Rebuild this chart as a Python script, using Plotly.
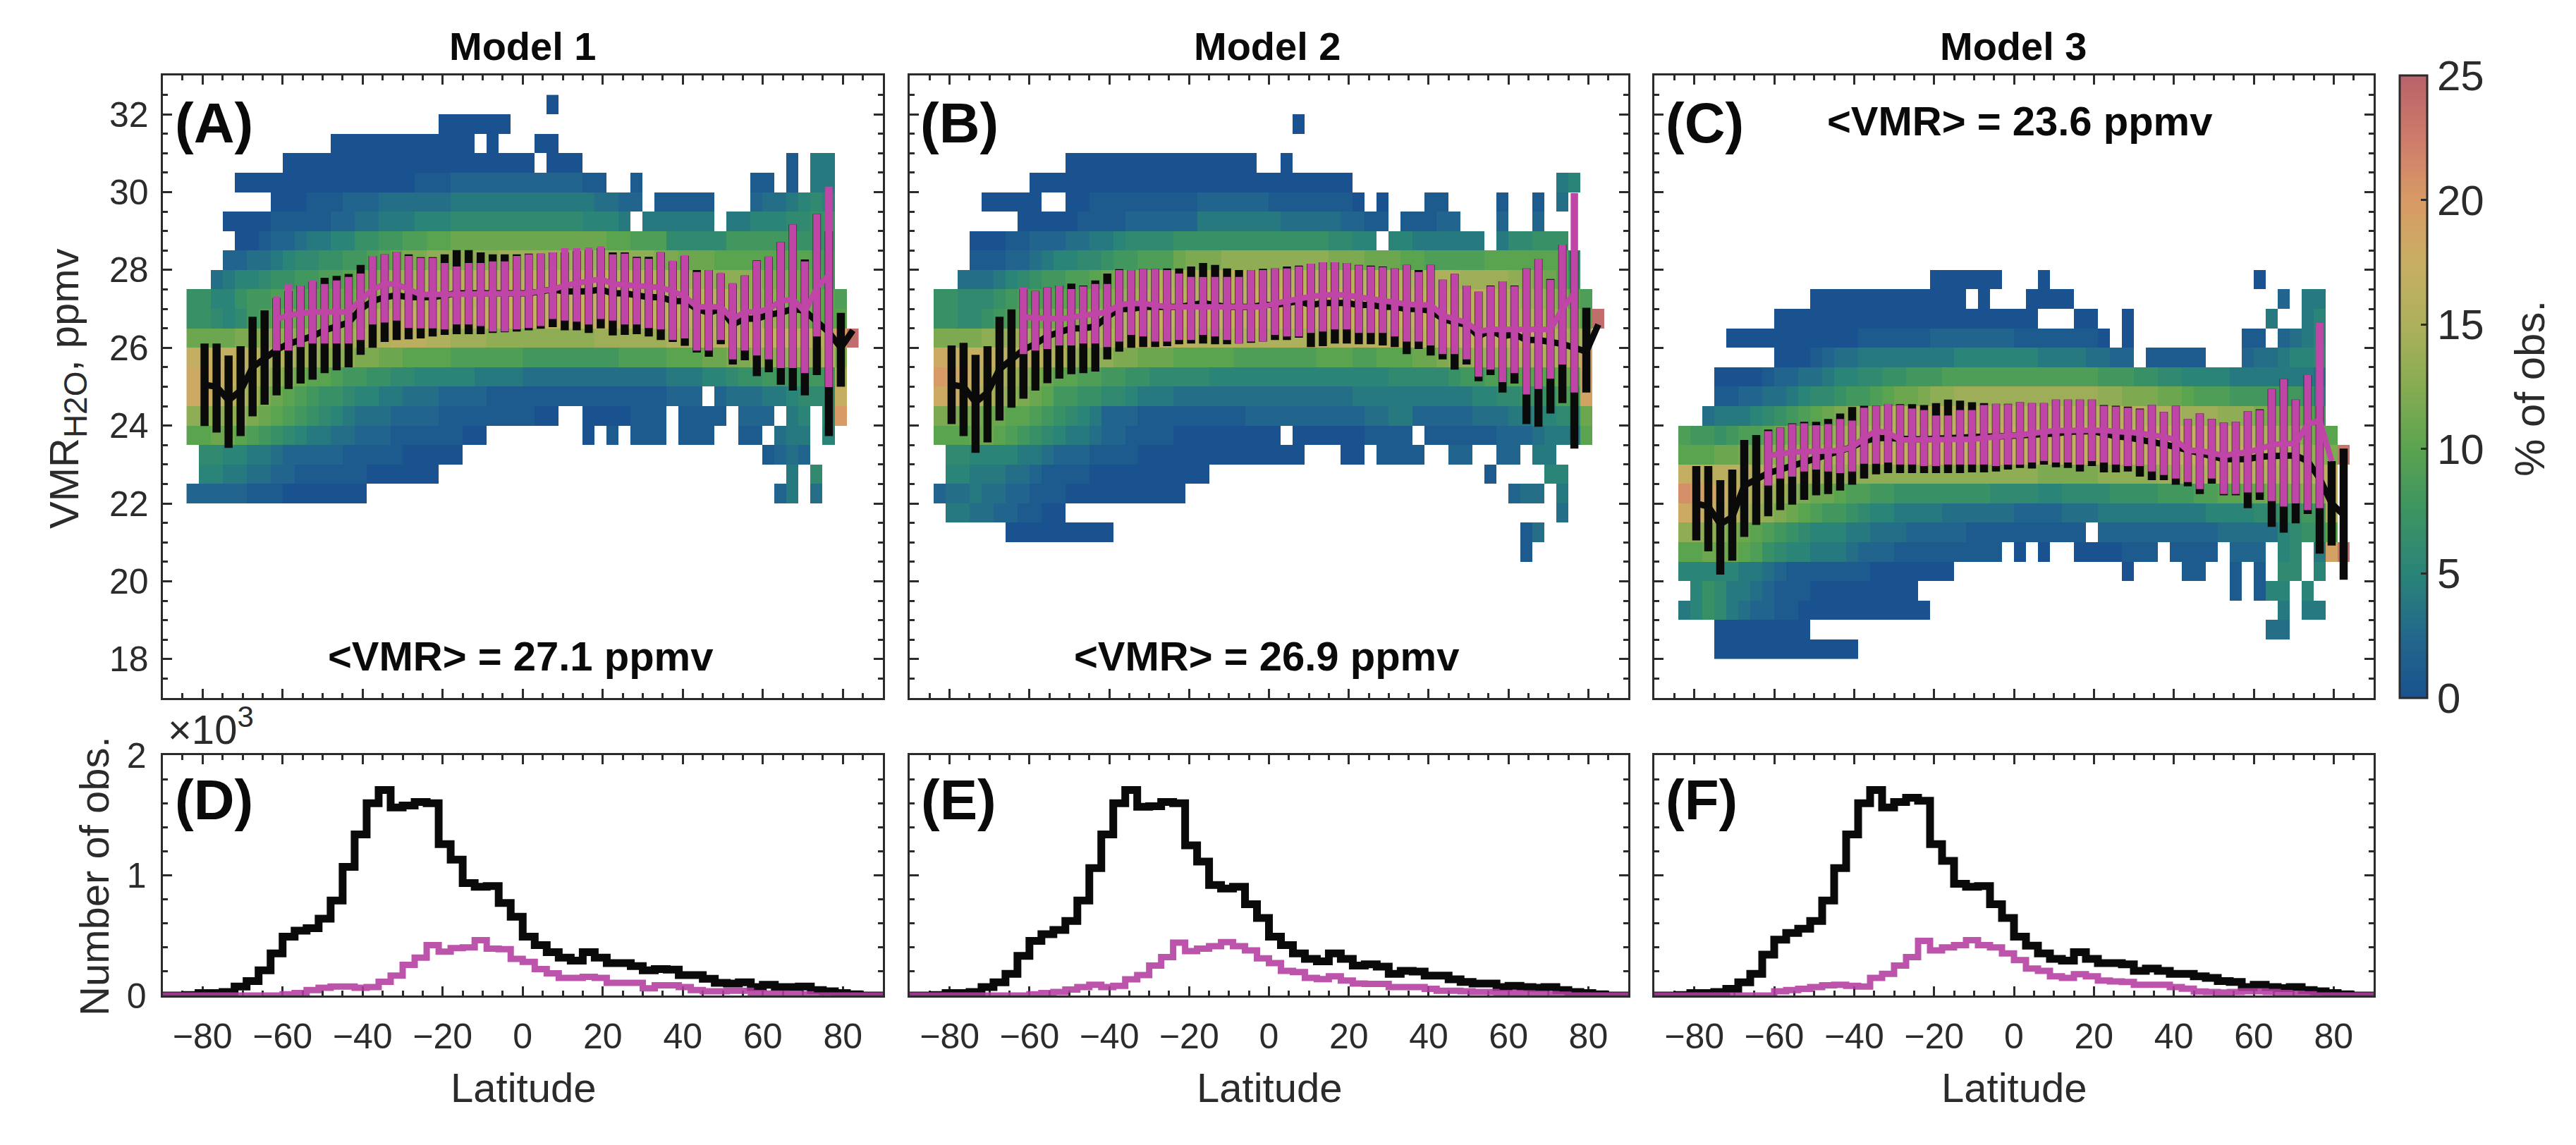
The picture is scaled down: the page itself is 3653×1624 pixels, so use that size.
import numpy as np
import plotly.graph_objects as go

W, H = 3653, 1624
LAT_CELLS = [-82.5 + 3 * i for i in range(56)]
VMR_ROWS = [18.25 + 0.5 * i for i in range(29)]
LAT_TICKS = [-80, -60, -40, -20, 0, 20, 40, 60, 80]
VMR_TICKS = [18, 20, 22, 24, 26, 28, 30, 32]
NOBS_TICKS = [0, 1, 2]
CBAR_TICKS = [0, 5, 10, 15, 20, 25]
HIST_EDGES = [-90 + 3 * i for i in range(61)]

# cell values: % of obs., one base-36 digit per cell, "." = empty; high rows first
CELLS_A = {
32.25: ".......... .......... .......... 0......... .......... ......",
31.75: ".......... .......... .000000... .......... .......... ......",
31.25: ".......... ..00000000 0000.0...0 0......... .......... ......",
30.75: "........00 0000000000 000000000. 000....... .......... 1.44..",
30.25: "....000000 0000000001 1122222222 22211..1.. .......11. 1.44..",
29.75: ".......000 1112223333 3344444444 44443322.1 1111...233 4565..",
29.25: "...0000111 1122334445 5566666666 6665554.44 4444.44555 6677..",
28.75: "....001223 4455778899 aabbbbbbbb bbbbbaa999 6666688888 8777..",
28.25: "...2233456 677889abcc ddddddeeee eeeeeedddc cbbbaaaaaa aa98..",
27.75: "..34556778 899abcdeef ffgggggggg gggggggggf feeeddddcc cba8..",
27.25: "7755788999 aabbcdefgg gggggghhhh hhhhhhhhgg gggggfeddd cbba9.",
26.75: "7765689abb ccddefgghh hhhhhhhhhh hhhhhhhhhh hhggffffee dcbaa.",
26.25: "bbbbccdddd eeeefffggg ffeeeddddd ddddeeeeee fffggggghh hggfko",
25.75: "hhhhggfffe edddccbbaa aa99999988 8888889999 aaabbccddd eeefc.",
25.25: "iiihgfedcb aa98877665 5555444433 3333333333 4445567788 8888e.",
24.75: "iihgfecba9 8776554433 3222211111 1111111111 222.233344 5666h.",
24.25: "dddddcba98 7654333222 2111111110 0..0000111 .1111.222. 45.6k.",
23.75: "aabba98765 4433222111 11100..... ...0.1.111 .111..11.3 44.5..",
23.25: ".665544322 2221111100 000....... .......... ........12 32....",
22.75: ".554433221 1111100000 0......... .......... .......... 4.6...",
22.25: "2222211100 00000..... .......... .......... .........2 4.3...",
}
CELLS_B = {
31.75: ".......... .......... .......... 0......... .......... ......",
30.75: ".......... .000000000 0000000..0 .......... .......... ......",
30.25: "........00 0000000000 0000000000 00000..... .......... ..45..",
29.75: "....00000. .001111111 1122222211 111110.0.. .11....1.. 1.3...",
29.25: ".......000 0011112222 2244444443 33332211.1 1122...2.. 2.....",
28.75: "...0001122 2334456666 7777777777 7776655.55 444444.466 777...",
28.25: "...1112234 5566788999 bcccdddddd dddcccbbba a99999aaaa aaa6..",
27.75: "..33345678 899abcdeff ffffgggggg gggggggggf ffffeeeedd cba7..",
27.25: "7766678999 aabccdefgg gggggghhhh hhhhhhhhgg gggggggffe edca9.",
26.75: "7766789abb ccdeefgghh hhhhhhhhhh hhhhhhhhhh hhhhggggff fedcao",
26.25: "ccccddeeee efffffgggg ggffffffff ffffgggggg gghhhhhhhh hgfeg.",
25.75: "iihhhhgggf fedddccbbb aaaaa99999 99aaa99aaa bbcddeeeff fffgj.",
25.25: "kjihgfedcb aa99887766 6665555555 5555555566 66678899aa aabbk.",
24.75: "iihgfedcba 8877665444 3333333333 3333344444 4444455667 7799j.",
24.25: "ccccbbaa98 7654222111 1111112222 2222223344 2222233344 5566b.",
23.75: "aaabba9876 5443221111 000000000. 0000001111 .111111222 3444a.",
23.25: ".665555443 2221111000 0000000000 0...00.111 1..22..22. 44....",
22.75: ".554443321 1110000000 000....... .......... ......1... .55...",
22.25: "2334332211 1000000000 0......... .......... ........23 3.4...",
21.75: ".443322110 0......... .......... .......... .......... ..3...",
21.25: "......0000 00000..... .......... .......... .........1 3.....",
20.75: ".......... .......... .......... .......... .........1 ......",
}
CELLS_C = {
27.75: ".......... .......... .000000... 0......... ........0. ......",
27.25: ".......... .000000000 0000.0...0 000....... .......... 2.44..",
26.75: "........00 0000000000 0000000000 ...00..0.. .........4 ..45..",
26.25: "....000000 0000011111 1222222211 111110.0.. .......11. 2345..",
25.75: "........00 0123344444 4445555555 44443322.1 1111...233 4556..",
25.25: "...0000122 3345566778 8899999999 9999988877 6655554444 4443..",
24.75: "...1122334 5667889abb cddeeeeeee eeeeeddccc bba9998888 8874..",
24.25: "..34445678 9abcdeefgg gggggggggg gggggggggf ffeeedddcc cba8..",
23.75: "9887899abc cddefffggg hhhhhhhhhh hhhhhhhhhh hhhhhhggff edcba.",
23.25: "aaabbccdde eeffgghhhh hhhhhhhhhh hhhhhhhhhh hhhhhhhhhg gfedcn",
22.75: "hhggggggff ffeeeddddd dddddddddd cccccddddd eeffgggggf fffgh.",
22.25: "lkjihgfeed cbba998877 7777776666 5566667777 88899aabbc ccddh.",
21.75: "iihhgfedcb a988765544 4433333322 2233344444 4444555566 7788f.",
21.25: "ddddcba987 6555443332 2222111111 1111.22222 2222233333 5677a.",
20.75: "aabbba9765 5444322211 1111111.0. 0..0000111 .1111.222. 56.4jn",
20.25: "5555544321 1111110000 000....... .......0.. ..11..1.1. 66.5..",
19.75: ".576443211 1000000000 .......... .......... ......1.15 5.5...",
19.25: "4576432211 0000000000 0......... .......... .......... 4.44..",
18.75: "...0000000 0......... .......... .......... .........3 3.....",
18.25: "...0000000 00000..... .......... .......... .......... ......",
}

BLACK_LAT = [-79.5 + 3 * i for i in range(55)]
PINK_LAT = [-61.5 + 3 * i for i in range(48)]

A_BLACK_MEAN = [25.05,25.0,24.65,24.9,25.5,25.75,25.95,26.1,26.2,26.3,
 26.45,26.55,26.65,27.0,27.2,27.3,27.35,27.3,27.3,27.3,
 27.35,27.4,27.4,27.4,27.4,27.4,27.4,27.4,27.45,27.5,
 27.45,27.45,27.45,27.5,27.4,27.4,27.35,27.3,27.3,27.2,
 27.2,27.0,26.9,27.0,26.6,26.75,26.75,26.85,26.9,27.0,
 26.95,26.7,26.4,26.0,26.45]
A_BLACK_HI = [26.11,26.11,25.8,26.04,26.8,26.96,27.28,27.46,27.6,27.7,
 27.8,27.85,27.9,28.13,28.36,28.4,28.47,28.4,28.33,28.33,
 28.4,28.51,28.51,28.45,28.4,28.4,28.4,28.42,28.42,28.45,
 28.45,28.49,28.51,28.56,28.45,28.45,28.34,28.34,28.45,28.22,
 28.36,28.0,28.0,27.91,27.64,27.86,28.25,28.34,28.72,29.17,
 28.27,29.44,28.99,26.9,26.45]
A_BLACK_LO = [23.99,23.82,23.43,23.73,24.24,24.54,24.78,24.94,25.08,25.18,
 25.35,25.42,25.5,25.82,26.0,26.15,26.2,26.22,26.24,26.29,
 26.33,26.35,26.35,26.35,26.38,26.4,26.42,26.45,26.49,26.53,
 26.45,26.45,26.38,26.5,26.32,26.33,26.35,26.29,26.2,26.15,
 26.05,25.88,25.77,26.09,25.57,25.68,25.27,25.37,25.05,24.9,
 24.78,25.3,23.73,25.0,26.45]
A_PINK_MEAN = [26.74,26.83,26.88,26.92,26.92,26.92,26.92,27.23,27.5,27.64,
 27.64,27.5,27.37,27.37,27.37,27.37,27.37,27.37,27.37,27.37,
 27.37,27.4,27.46,27.5,27.6,27.65,27.7,27.77,27.64,27.62,
 27.6,27.55,27.55,27.45,27.32,27.05,27.05,27.05,26.74,26.92,
 26.92,27.0,27.2,27.25,26.92,27.55,27.87]
A_PINK_HI = [27.32,27.64,27.6,27.73,27.64,27.73,27.82,27.91,28.36,28.4,
 28.47,28.36,28.31,28.31,28.18,28.09,28.18,28.18,28.22,28.22,
 28.36,28.4,28.42,28.45,28.56,28.56,28.58,28.61,28.4,28.42,
 28.31,28.29,28.47,28.24,28.38,27.95,28.0,27.93,27.67,27.86,
 28.24,28.36,28.72,29.17,28.22,29.44,30.14]
A_PINK_LO = [25.93,25.93,26.02,26.11,26.11,26.11,26.11,26.2,26.6,26.65,
 26.7,26.51,26.5,26.5,26.47,26.6,26.6,26.56,26.42,26.42,
 26.47,26.51,26.56,26.74,26.7,26.67,26.6,26.74,26.7,26.6,
 26.6,26.51,26.47,26.2,26.24,25.93,25.93,26.2,25.7,25.93,
 25.8,25.7,25.48,25.48,25.35,26.29,24.99]

B_BLACK_MEAN = [25.05,25.0,24.6,24.85,25.45,25.7,25.95,26.1,26.3,26.4,
 26.5,26.5,26.55,26.8,27.0,27.0,27.05,27.05,27.05,27.05,
 27.1,27.15,27.1,27.05,27.05,27.05,27.1,27.1,27.15,27.2,
 27.1,27.15,27.15,27.15,27.1,27.1,27.05,27.05,27.0,27.0,
 26.95,26.75,26.65,26.6,26.3,26.45,26.3,26.35,26.2,26.2,
 26.15,26.1,26.0,25.9,26.6]
B_BLACK_HI = [26.06,26.13,25.82,26.04,26.8,26.99,27.5,27.46,27.55,27.6,
 27.65,27.6,27.73,27.91,28.02,28.0,28.03,28.03,28.04,28.04,
 28.09,28.18,28.13,28.04,28.0,28.0,28.03,28.04,28.09,28.11,
 28.16,28.2,28.2,28.18,28.13,28.11,28.09,28.04,28.13,28.0,
 28.13,27.75,27.9,27.6,27.44,27.6,27.71,27.6,28.04,28.29,
 27.77,28.65,28.49,27.03,26.6]
B_BLACK_LO = [24.04,23.73,23.3,23.57,24.13,24.46,24.69,24.9,25.09,25.21,
 25.32,25.35,25.39,25.7,25.9,26.0,26.02,26.02,26.04,26.09,
 26.11,26.11,26.09,26.09,26.11,26.13,26.16,26.2,26.2,26.26,
 26.02,26.04,26.11,26.11,26.09,26.09,26.06,26.02,25.84,25.97,
 25.8,25.7,25.44,25.57,25.14,25.3,24.85,25.08,24.04,23.97,
 24.31,24.58,23.41,24.85,26.6]
B_PINK_MEAN = [26.79,26.77,26.75,26.74,26.78,26.83,26.87,26.92,27.1,27.14,
 27.14,27.1,27.05,27.05,27.05,27.05,27.05,27.05,27.05,27.05,
 27.05,27.14,27.2,27.28,27.32,27.35,27.37,27.35,27.3,27.25,
 27.23,27.18,27.12,27.1,27.1,26.83,26.74,26.65,26.42,26.47,
 26.47,26.47,26.47,26.47,26.47,27.0,27.4]
B_PINK_HI = [27.55,27.46,27.55,27.6,27.51,27.58,27.64,27.64,28.0,28.0,
 28.03,28.03,28.0,27.91,27.82,27.82,27.82,27.82,27.82,28.0,
 28.0,28.04,28.04,28.09,28.16,28.2,28.2,28.18,28.12,28.09,
 28.07,28.04,28.13,27.95,28.13,27.75,27.9,27.6,27.44,27.58,
 27.71,27.58,28.04,28.29,27.75,28.65,29.98]
B_PINK_LO = [25.84,25.93,25.97,26.06,26.06,26.11,26.11,26.02,26.16,26.33,
 26.29,26.16,26.16,26.2,26.2,26.33,26.29,26.2,26.11,26.16,
 26.16,26.33,26.29,26.29,26.38,26.42,26.47,26.47,26.38,26.38,
 26.38,26.29,26.16,26.16,26.06,25.84,25.84,25.7,25.26,25.44,
 25.12,25.35,24.8,24.94,25.21,25.57,24.85]

C_BLACK_MEAN = [22.0,21.92,21.47,21.65,22.46,22.6,22.78,22.87,22.96,23.05,
 23.14,23.23,23.32,23.45,23.6,23.68,23.68,23.65,23.65,23.65,
 23.67,23.7,23.72,23.72,23.72,23.72,23.73,23.74,23.75,23.77,
 23.8,23.84,23.85,23.86,23.8,23.72,23.7,23.65,23.6,23.52,
 23.45,23.38,23.32,23.25,23.14,23.14,23.14,23.2,23.23,23.23,
 23.23,23.09,22.64,22.0,21.7]
C_BLACK_HI = [22.96,22.96,22.6,22.87,23.63,23.76,23.9,23.95,24.06,24.1,
 24.1,24.17,24.31,24.48,24.51,24.51,24.55,24.55,24.55,24.53,
 24.58,24.67,24.64,24.6,24.58,24.56,24.56,24.6,24.58,24.58,
 24.67,24.67,24.67,24.67,24.53,24.51,24.49,24.44,24.53,24.35,
 24.51,24.17,24.31,24.17,24.08,24.1,24.37,24.42,24.94,25.2,
 24.67,25.3,24.5,23.09,23.41]
C_BLACK_LO = [21.05,20.77,20.17,20.53,21.14,21.45,21.67,21.83,21.97,22.09,
 22.21,22.24,22.33,22.48,22.64,22.75,22.78,22.78,22.78,22.78,
 22.78,22.78,22.78,22.8,22.8,22.82,22.87,22.91,22.9,23.0,
 22.93,22.91,22.82,22.96,22.8,22.8,22.82,22.69,22.6,22.6,
 22.48,22.44,22.24,22.51,22.21,22.21,21.88,22.09,21.4,21.25,
 21.49,21.73,20.71,20.92,20.04]
C_PINK_MEAN = [23.23,23.28,23.32,23.33,23.34,23.35,23.36,23.45,23.68,23.86,
 23.82,23.63,23.63,23.63,23.63,23.63,23.63,23.65,23.68,23.72,
 23.74,23.76,23.81,23.84,23.87,23.88,23.89,23.9,23.88,23.85,
 23.83,23.81,23.75,23.72,23.63,23.36,23.36,23.3,23.23,23.28,
 23.32,23.4,23.5,23.54,23.54,24.04,24.13,23.09]
C_PINK_HI = [23.86,23.95,24.04,24.06,24.01,24.04,24.17,24.13,24.46,24.51,
 24.56,24.53,24.44,24.4,24.26,24.26,24.4,24.4,24.53,24.56,
 24.55,24.6,24.58,24.58,24.67,24.67,24.67,24.67,24.51,24.49,
 24.46,24.42,24.53,24.35,24.51,24.17,24.31,24.17,24.08,24.1,
 24.37,24.4,24.94,25.2,24.67,25.3,26.64,23.09]
C_PINK_LO = [22.46,22.64,22.69,22.82,22.87,22.82,22.78,22.82,23.02,23.02,
 23.05,23.0,23.0,22.96,22.96,23.0,23.0,23.0,23.0,22.96,
 23.0,23.0,23.05,23.09,23.05,23.05,23.0,23.09,23.05,23.0,
 22.96,22.96,22.82,22.73,22.64,22.55,22.37,22.64,22.24,22.24,
 22.28,22.28,22.06,21.92,22.0,21.83,21.88,23.09]

D_BLACK = [0,0,.005,.02,.02,.03,.075,.12,.21,.35,.49,.54,.56,.64,.79,1.07,1.34,1.60,1.71,1.565,
 1.58,1.61,1.60,1.26,1.13,.935,.905,.91,.77,.655,.49,.42,.36,.315,.29,.36,.315,.27,.27,.245,
 .21,.22,.215,.17,.17,.14,.105,.10,.11,.07,.09,.07,.07,.075,.045,.035,.02,.01,0,0]
D_PINK = [0,0,0,0,0,0,0,0,0,0,.01,.02,.045,.065,.075,.075,.065,.07,.115,.165,
 .255,.315,.42,.365,.395,.40,.46,.39,.385,.305,.28,.22,.185,.147,.147,.155,.147,.105,.105,.105,
 .06,.085,.085,.07,.045,.035,.035,.04,.04,.02,.016,.016,.012,.01,0,0,0,0,0,0]
E_BLACK = [0,0,.005,.02,.02,.03,.07,.11,.18,.33,.455,.51,.545,.62,.79,1.06,1.34,1.60,1.71,1.57,
 1.575,1.61,1.60,1.25,1.115,.92,.89,.905,.76,.645,.49,.42,.35,.305,.285,.35,.305,.25,.26,.24,
 .18,.205,.20,.165,.165,.135,.113,.10,.10,.07,.08,.07,.065,.07,.045,.03,.02,.01,0,0]
E_PINK = [0,0,0,0,0,0,0,0,0,0,.01,.02,.03,.05,.07,.09,.07,.08,.135,.17,
 .25,.32,.44,.37,.39,.41,.445,.41,.375,.31,.27,.205,.195,.147,.136,.16,.125,.10,.097,.097,
 .07,.07,.07,.055,.04,.04,.035,.03,.03,.02,.02,.018,.015,.012,.008,0,0,0,0,0]
F_BLACK = [0,0,.005,.02,.02,.03,.055,.11,.18,.34,.465,.52,.555,.62,.79,1.06,1.34,1.60,1.71,1.565,
 1.61,1.645,1.62,1.26,1.12,.93,.905,.91,.76,.645,.49,.415,.35,.305,.29,.36,.305,.27,.27,.26,
 .205,.225,.205,.18,.18,.16,.147,.12,.113,.07,.09,.07,.062,.07,.045,.035,.02,.01,0,0]
F_PINK = [0,0,0,0,0,0,0,0,0,0,.035,.045,.055,.07,.085,.09,.08,.075,.147,.18,
 .25,.32,.455,.375,.40,.42,.46,.42,.40,.35,.295,.225,.205,.16,.147,.177,.16,.125,.118,.113,
 .09,.09,.09,.07,.057,.034,.03,.025,.03,.035,.035,.03,.02,.015,.01,0,0,0,0,0]

COLORS = [[0, "#19528f"], [0.1, "#23688c"], [0.2, "#2a8478"], [0.3, "#3c9462"], [0.4, "#5aa44f"],
          [0.5, "#86ac52"], [0.6, "#aeb05c"], [0.7, "#c9ae62"], [0.8, "#d89a66"], [0.9, "#cd7b6a"], [1, "#b8636b"]]
INK = "#2b2b2b"
PINK = "#bf45a6"
FONT = "Liberation Sans"

def grid(cells):
    bad = [k for k, v in cells.items() if len(v.replace(" ", "")) != 56]
    if bad:
        raise ValueError(f"bad rows {bad}")
    out = []
    for r in VMR_ROWS:
        s = cells.get(r, "." * 56).replace(" ", "")
        out.append([None if c == "." else int(c, 36) for c in s])
    return out

PANELS = [(230.5, 1252), (1290, 2309), (2346, 3366)]
TOP = (107, 990)
LOW = (1071, 1412)

fx = lambda p: p / W
fy = lambda p: 1 - p / H

layout = dict(width=W, height=H, margin=dict(l=0, r=0, t=0, b=0, autoexpand=False), paper_bgcolor="white", plot_bgcolor="white",
              showlegend=False, font=dict(family=FONT, color=INK), template=None)

def axis(dom, rng, major, minor, **kw):
    return dict(domain=dom, range=rng, tickmode="array", tickvals=major, ticks="inside", ticklen=13, tickwidth=3,
                tickcolor=INK, showline=True, linewidth=3, linecolor=INK, mirror="allticks", showgrid=False, zeroline=False,
                automargin=False, tickfont=dict(family=FONT, size=50, color=INK),
                minor=dict(ticks="inside", ticklen=7, tickwidth=2.5, tickcolor=INK, tick0=0, dtick=minor, showgrid=False), **kw)

fig = go.Figure()

sets = [
 (CELLS_A, A_BLACK_MEAN, A_BLACK_HI, A_BLACK_LO, A_PINK_MEAN, A_PINK_HI, A_PINK_LO, D_BLACK, D_PINK),
 (CELLS_B, B_BLACK_MEAN, B_BLACK_HI, B_BLACK_LO, B_PINK_MEAN, B_PINK_HI, B_PINK_LO, E_BLACK, E_PINK),
 (CELLS_C, C_BLACK_MEAN, C_BLACK_HI, C_BLACK_LO, C_PINK_MEAN, C_PINK_HI, C_PINK_LO, F_BLACK, F_PINK),
]

for k, (cells, bm, bh, bl, pm, ph, pl, hb, hp) in enumerate(sets):
    a = 2 * k + 1
    b = 2 * k + 2
    xa, ya = f"x{a}", f"y{a}"
    xb, yb = f"x{b}", f"y{b}"
    dom = [fx(PANELS[k][0]), fx(PANELS[k][1])]
    layout[f"xaxis{a}"] = axis(dom, [-90, 90], LAT_TICKS, 5, showticklabels=False, anchor=ya)
    layout[f"yaxis{a}"] = axis([fy(TOP[1]), fy(TOP[0])], [17, 33], VMR_TICKS, 0.5, showticklabels=(k == 0), anchor=xa, ticklabelstandoff=7)
    layout[f"xaxis{b}"] = axis(dom, [-90, 90], LAT_TICKS, 5, anchor=yb, ticklabelstandoff=12, layer="below traces")
    layout[f"yaxis{b}"] = axis([fy(LOW[1]), fy(LOW[0])], [0, 2], NOBS_TICKS, 0.2, showticklabels=(k == 0), anchor=xb, ticklabelstandoff=10, layer="below traces")

    fig.add_trace(go.Heatmap(x=LAT_CELLS, y=VMR_ROWS, z=grid(cells), coloraxis="coloraxis", xaxis=xa, yaxis=ya, hoverongaps=False))
    for lat, mean, hi, lo, col, eb, lw in ((BLACK_LAT[:len(bm)], bm, bh, bl, "#0a0a0a", 11.5, 9), (PINK_LAT[:len(pm)], pm, ph, pl, PINK, 10.5, 8)):
        m, u, d = np.array(mean), np.array(hi), np.array(lo)
        fig.add_trace(go.Scatter(x=lat, y=mean, mode="lines", line=dict(color=col, width=lw), xaxis=xa, yaxis=ya,
                                 error_y=dict(type="data", symmetric=False, array=(u - m).clip(0), arrayminus=(m - d).clip(0),
                                              thickness=eb, width=0, color=col)))
    for vals, col, lw in ((hb, "#0a0a0a", 11), (hp, "rgba(178,60,158,0.88)", 9)):
        fig.add_trace(go.Scatter(x=HIST_EDGES, y=list(vals) + [vals[-1]], mode="lines", line=dict(color=col, width=lw, shape="hv"),
                                 xaxis=xb, yaxis=yb, cliponaxis=False))

layout["coloraxis"] = dict(cmin=0, cmax=25, colorscale=COLORS, colorbar=dict(
    x=fx(3403), xanchor="left", xpad=0, y=fy(990), yanchor="bottom", ypad=0, lenmode="fraction", len=883 / H,
    thicknessmode="pixels", thickness=39, tickmode="array", tickvals=CBAR_TICKS, ticks="inside", ticklen=10, tickwidth=3,
    tickcolor=INK, outlinecolor=INK, outlinewidth=3, tickfont=dict(family=FONT, size=60, color=INK)))

def note(text, x, y, size, bold=False, angle=0, anchor="center", color=None):
    layout.setdefault("annotations", []).append(dict(
        text=f"<b>{text}</b>" if bold else text, x=fx(x), y=fy(y), xref="paper", yref="paper", showarrow=False,
        xanchor=anchor, yanchor="middle", textangle=angle,
        font=dict(family=FONT, size=size, color=color or ("#0a0a0a" if bold else INK))))

for t, x in (("Model 1", 741), ("Model 2", 1797), ("Model 3", 2855)):
    note(t, x, 66, 56, bold=True)
for t, x, y in (("(A)", 246, 175), ("(B)", 1303, 175), ("(C)", 2360, 175), ("(D)", 246, 1134), ("(E)", 1304, 1134), ("(F)", 2360, 1134)):
    note(t, x, y, 80, bold=True, anchor="left")
for t, x, y in (("&lt;VMR&gt; = 27.1 ppmv", 738, 930), ("&lt;VMR&gt; = 26.9 ppmv", 1796, 930), ("&lt;VMR&gt; = 23.6 ppmv", 2864, 171)):
    note(t, x, y, 58, bold=True)
for x in (742, 1800, 2856):
    note("Latitude", x, 1542, 58)
note('VMR<sub><span style="font-size:46px">H2O</span></sub>, ppmv', 95, 551, 58, angle=-90)
note("Number of obs.", 133, 1243, 58, angle=-90)
note('×10<sup><span style="font-size:42px">3</span></sup>', 236, 1030, 58, anchor="left")
note("% of obs.", 3587, 551, 60, angle=-90)

fig.update_layout(**layout)
fig.write_html("out.html", post_script="document.body.style.margin='0';", config={"displayModeBar": False})
